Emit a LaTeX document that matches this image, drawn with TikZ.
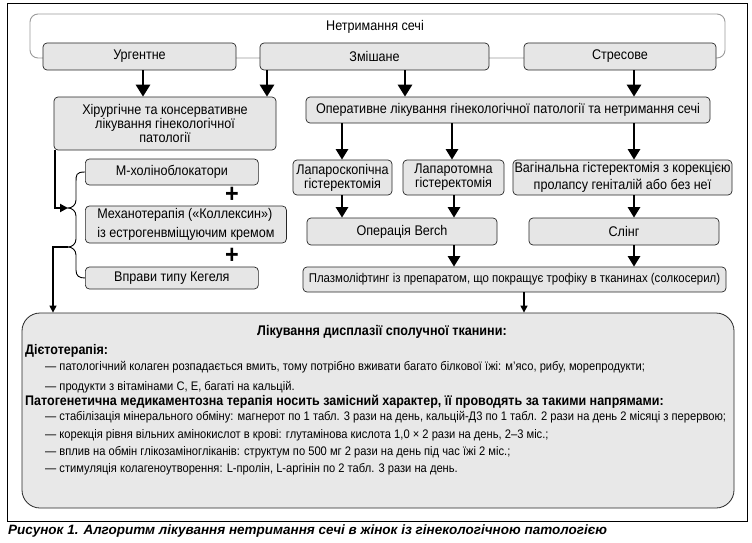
\documentclass[tikz,border=0pt]{standalone}
\usepackage{fontspec}
\setmainfont{Liberation Sans}[FakeStretch=0.9]
\newfontfamily\capfont{Liberation Sans}
\usetikzlibrary{arrows.meta,calc}
\definecolor{boxgray}{HTML}{E6E6E6}
\definecolor{biggray}{HTML}{E8E8E8}
\definecolor{framegray}{HTML}{9A9A9A}
\begin{document}
\begin{tikzpicture}[x=1pt,y=-1pt,
  box/.style={draw=black!85, fill=boxgray, rounded corners=4pt, line width=0.7pt,
    inner sep=1pt, align=center, font=\fontsize{14}{14}\selectfont},
  lbox/.style={box, align=left, inner xsep=12pt},
  arr/.style={line width=2.8pt, -{Triangle[length=12pt,width=14pt]}},
  arrs/.style={line width=2.5pt, -{Triangle[length=10.5pt,width=12pt]}},
  arrt/.style={line width=1.4pt, -{Triangle[length=7pt,width=7pt]}},
  thick line/.style={line width=2.6pt},
  brace line/.style={line width=0.9pt},
  txt/.style={anchor=west, inner sep=0pt, font=\fontsize{12.4}{13}\selectfont},
  hdr/.style={anchor=west, inner sep=0pt, font=\fontsize{13.9}{14}\selectfont\bfseries},
  plus/.style={inner sep=0pt, font=\fontsize{26}{26}\selectfont\bfseries}
]
\useasboundingbox (0,0) rectangle (752,543);
% outer frame
\draw[line width=0.8pt] (7,3) rectangle (747,521);
% top grey frame
\node[draw=framegray, line width=0.9pt, rounded corners=8pt, minimum width=695pt, minimum height=44pt, inner sep=0pt] (frame) at (377.5,36) {};
\node[inner sep=0pt, font=\fontsize{14}{14}\selectfont] (net) at (375,27) {Нетримання сечі};
% first row
\node[box, minimum width=193pt, minimum height=27pt] (urg) at (139.5,56.5) {Ургентне};
\node[box, minimum width=229pt, minimum height=27pt] (mix) at (374.5,56.5) {Змішане};
\node[box, minimum width=192pt, minimum height=27pt] (str) at (620,56.5) {Стресове};
% second row
\node[box, minimum width=222pt, minimum height=53pt] (hir) at (165,123.5) {Хірургічне та консервативне\\лікування гінекологічної\\патології};
\node[box, minimum width=404pt, minimum height=26pt] (oper) at (508,110) {Оперативне лікування гінекологічної патології та нетримання сечі};
% third row
\node[box, minimum width=99pt, minimum height=35pt] (lapsc) at (342.5,177.5) {Лапароскопічна\\гістеректомія};
\node[box, minimum width=101pt, minimum height=35pt] (lapt) at (453.5,177.5) {Лапаротомна\\гістеректомія};
\node[box, minimum width=219pt, minimum height=35pt, font=\fontsize{14}{16.5}\selectfont] (vag) at (622.5,177.5) {Вагінальна гістеректомія з корекцією\\пролапсу геніталій або без неї};
% fourth row
\node[box, minimum width=190pt, minimum height=27pt] (berch) at (402,231.5) {Операція Berch};
\node[box, minimum width=190pt, minimum height=27pt] (sling) at (624,231.5) {Слінг};
\node[box, minimum width=423pt, minimum height=25pt, font=\fontsize{12.7}{13}\selectfont] (plasma) at (514.5,279.5) {Плазмоліфтинг із препаратом, що покращує трофіку в тканинах (солкосерил)};
% left column
\node[lbox, minimum width=173pt, minimum height=26pt, anchor=west] (mch) at (85,172) {М-холіноблокатори};
\node[lbox, minimum width=192pt, minimum height=37pt, anchor=west, font=\fontsize{14}{18.5}\selectfont] (mech) at (85,224.5) {Механотерапія («Коллексин»)\\із естрогенвміщуючим кремом};
\node[lbox, minimum width=173pt, minimum height=22pt, anchor=west] (keg) at (85,278) {Вправи типу Кегеля};
\node[plus] (p1) at (232,195) {+};
\node[plus] (p2) at (232,256) {+};
% big box
\node[draw=black!85, fill=biggray, line width=0.8pt, rounded corners=18pt, minimum width=712pt, minimum height=195pt, inner sep=0pt] (big) at (378,410.5) {};
\node[inner sep=0pt, font=\fontsize{14}{14}\selectfont\bfseries] (t0) at (382,332) {Лікування дисплазії сполучної тканини:};
\node[hdr] (h1) at (25,351) {Дієтотерапія:};
\node[txt] (l1) at (45,367) {— патологічний колаген розпадається вмить, тому потрібно вживати багато білкової їжі: м'ясо, рибу, морепродукти;};
\node[txt] (l2) at (45,387) {— продукти з вітамінами С, Е, багаті на кальцій.};
\node[hdr] (h2) at (25,402) {Патогенетична медикаментозна терапія носить замісний характер, її проводять за такими напрямами:};
\node[txt] (l3) at (45,417) {— стабілізація мінерального обміну: магнерот по 1 табл. 3 рази на день, кальцій-Д3 по 1 табл. 2 рази на день 2 місяці з перервою;};
\node[txt] (l4) at (45,435) {— корекція рівня вільних амінокислот в крові: глутамінова кислота 1,0 × 2 рази на день, 2–3 міс.;};
\node[txt] (l5) at (45,452) {— вплив на обмін глікозаміногліканів: структум по 500 мг 2 рази на день під час їжі 2 міс.;};
\node[txt] (l6) at (45,469) {— стимуляція колагеноутворення: L-пролін, L-аргінін по 2 табл. 3 рази на день.};
% caption
\node[anchor=west, inner sep=0pt, font=\capfont\fontsize{13.5}{14}\selectfont\bfseries\itshape] (cap) at (8,531) {Рисунок 1. Алгоритм лікування нетримання сечі в жінок із гінекологічною патологією};
% arrows row 1
\draw[arr] (143,0 |- urg.south) -- (143,0 |- hir.north);
\draw[arr] (267,0 |- mix.south) -- (267,0 |- hir.north);
\draw[arr] (405,0 |- mix.south) -- (405,0 |- oper.north);
\draw[arr] (634,0 |- str.south) -- (634,0 |- oper.north);
% arrows row 2
\draw[arrs] (342,0 |- oper.south) -- (342,0 |- lapsc.north);
\draw[arrs] (452,0 |- oper.south) -- (452,0 |- lapt.north);
\draw[arrs] (634,0 |- oper.south) -- (634,0 |- vag.north);
% arrows row 3
\draw[arrs] (342,0 |- lapsc.south) -- (342,0 |- berch.north);
\draw[arrs] (454,0 |- lapt.south) -- (454,0 |- berch.north);
\draw[arrs] (634,0 |- vag.south) -- (634,0 |- sling.north);
% arrows row 4
\draw[arrs] (454,0 |- berch.south) -- (454,0 |- plasma.north);
\draw[arrs] (634,0 |- sling.south) -- (634,0 |- plasma.north);
\draw[arrt] (524,0 |- plasma.south) -- (524,0 |- big.north);
% brace
\coordinate (tipA) at (68,208);
\coordinate (tipB) at (68,247);
\coordinate (cornB) at (53,247);
\draw[brace line] (mch.west) .. controls (76,172) and (76,175) .. (76,182) -- (76,200)
  .. controls (76,205) and (72,208) .. (tipA)
  .. controls (72,208) and (76,211) .. (76,216) -- (76,239)
  .. controls (76,244) and (72,247) .. (tipB)
  .. controls (72,247) and (76,250) .. (76,255) -- (76,270)
  .. controls (76,276) and (79,278) .. (keg.west);
\draw[thick line, -{Triangle[length=8pt,width=8pt]}] (55,0 |- hir.south) |- (tipA);
\draw[thick line] (tipB) -- (cornB);
\draw[arrt] ([yshift=0.6pt]cornB) -- (53,0 |- big.north);
\end{tikzpicture}
\end{document}
